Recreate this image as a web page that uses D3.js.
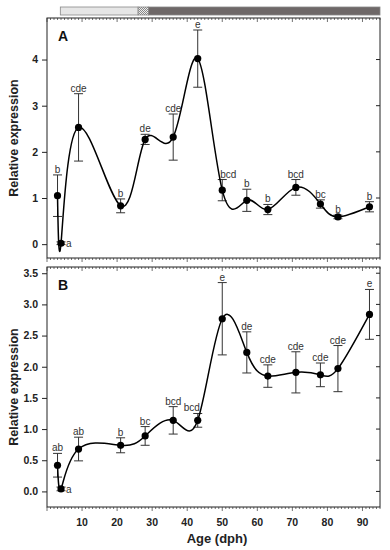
<!DOCTYPE html>
<html>
<head>
<meta charset="utf-8">
<script src="https://cdn.jsdelivr.net/npm/d3@7"></script>
<style>
  body { margin: 0; background: #fff; }
  svg { font-family: "Liberation Sans", Arial, sans-serif; }
</style>
</head>
<body>
<div id="chart"></div>
<script>
// sampling ages (dph)
var ages = [3, 4, 9, 21, 28, 36, 43, 50, 57, 63, 71, 78, 83, 92];

// panel A
var meanA = [1.05, 0.02, 2.53, 0.83, 2.27, 2.32, 4.02, 1.17, 0.95, 0.75, 1.23, 0.87, 0.59, 0.81];
var errA  = [0.45, 0.03, 0.73, 0.15, 0.11, 0.50, 0.62, 0.23, 0.24, 0.11, 0.17, 0.09, 0.04, 0.11];
var letA  = ["b", "a", "cde", "b", "de", "cde", "e", "bcd", "b", "b", "bcd", "bc", "b", "b"];
var ticksA = [0, 1, 2, 3, 4];

// panel B
var meanB = [0.42, 0.04, 0.68, 0.74, 0.89, 1.14, 1.14, 2.77, 2.23, 1.85, 1.91, 1.87, 1.97, 2.84];
var errB  = [0.19, 0.03, 0.19, 0.12, 0.15, 0.22, 0.11, 0.58, 0.33, 0.18, 0.33, 0.19, 0.37, 0.40];
var letB  = ["ab", "a", "ab", "b", "bc", "bcd", "bcd", "e", "de", "cde", "cde", "cde", "cde", "e"];
var ticksB = [0, 0.5, 1, 1.5, 2, 2.5, 3, 3.5];

var xTicks = [10, 20, 30, 40, 50, 60, 70, 80, 90];

// developmental stage bar on top (dph)
var stageStart = [3.8, 26, 29];
var stageEnd   = [26, 29, 95];
var stageFill  = ["#e6e6e6", "url(#hatch)", "#6e6868"];

var W = 390, H = 550;
var left = 47, right = 380;

var svg = d3.select("#chart").append("svg")
    .attr("width", W)
    .attr("height", H);

// hatch pattern for the transition segment
var pat = svg.append("defs").append("pattern")
    .attr("id", "hatch")
    .attr("patternUnits", "userSpaceOnUse")
    .attr("width", 2).attr("height", 2);
pat.append("rect").attr("width", 2).attr("height", 2).attr("fill", "#eee");
pat.append("rect").attr("width", 1).attr("height", 1).attr("fill", "#888");
pat.append("rect").attr("x", 1).attr("y", 1).attr("width", 1).attr("height", 1).attr("fill", "#888");

var x = d3.scaleLinear().domain([0, 95]).range([left, right]);

// stage bar
svg.append("g").selectAll("rect")
    .data(stageStart)
    .enter()
    .append("rect")
    .attr("x", function(d) { return x(d); })
    .attr("y", 7)
    .attr("width", function(d, i) { return x(stageEnd[i]) - x(d); })
    .attr("height", 8)
    .attr("fill", function(d, i) { return stageFill[i]; })
    .attr("stroke", "#888")
    .attr("stroke-width", 0.8);

function drawPanel(top, bottom, yDomain, yTicks, fmt, mean, err, lets, tag, shift) {
    var y = d3.scaleLinear().domain(yDomain).range([bottom, top]);
    var g = svg.append("g");

    // frame
    g.append("rect")
        .attr("x", left).attr("y", top)
        .attr("width", right - left).attr("height", bottom - top)
        .attr("fill", "none")
        .attr("stroke", "#222")
        .attr("stroke-width", 1);

    // top & bottom minor / major ticks (all pointing down)
    var minor = d3.range(0, 96, 1);
    [top, bottom].forEach(function(yy) {
        g.append("g").selectAll("line")
            .data(minor)
            .enter()
            .append("line")
            .attr("x1", function(d) { return x(d); })
            .attr("x2", function(d) { return x(d); })
            .attr("y1", yy)
            .attr("y2", function(d) { return yy + (d % 10 == 0 ? 4 : 2); })
            .attr("stroke", "#333")
            .attr("stroke-width", 0.7);
    });

    // left axis
    g.append("g")
        .attr("transform", "translate(" + left + ",0)")
        .call(d3.axisLeft(y).tickValues(yTicks).tickFormat(fmt).tickSize(5).tickPadding(4))
        .call(function(a) {
            a.select(".domain").remove();
            a.selectAll("line").attr("stroke", "#222");
            a.selectAll("text")
                .attr("font-size", "10.5px")
                .attr("font-weight", "bold")
                .attr("fill", "#222")
                .attr("font-family", "Liberation Sans, Arial, sans-serif");
        });

    // right axis ticks (inward)
    g.append("g").selectAll("line")
        .data(yTicks)
        .enter()
        .append("line")
        .attr("x1", right - 4).attr("x2", right)
        .attr("y1", function(d) { return y(d); })
        .attr("y2", function(d) { return y(d); })
        .attr("stroke", "#222");

    // y label
    g.append("text")
        .attr("transform", "translate(18," + ((top + bottom) / 2) + ") rotate(-90)")
        .attr("text-anchor", "middle")
        .attr("font-size", "12.5px")
        .attr("font-weight", "bold")
        .attr("fill", "#222")
        .text("Relative expression");

    // panel tag
    g.append("text")
        .attr("x", 58).attr("y", top + 23)
        .attr("font-size", "14px")
        .attr("font-weight", "bold")
        .attr("fill", "#111")
        .text(tag);

    // error bars
    var eb = g.append("g").selectAll("g")
        .data(ages)
        .enter()
        .append("g")
        .attr("stroke", "#333")
        .attr("stroke-width", 1);
    eb.append("line")
        .attr("x1", function(d) { return x(d); })
        .attr("x2", function(d) { return x(d); })
        .attr("y1", function(d, i) { return y(mean[i] + err[i]); })
        .attr("y2", function(d, i) { return y(mean[i] - err[i]); });
    eb.append("line")
        .attr("x1", function(d) { return x(d) - 4.5; })
        .attr("x2", function(d) { return x(d) + 4.5; })
        .attr("y1", function(d, i) { return y(mean[i] + err[i]); })
        .attr("y2", function(d, i) { return y(mean[i] + err[i]); });
    eb.append("line")
        .attr("x1", function(d) { return x(d) - 4.5; })
        .attr("x2", function(d) { return x(d) + 4.5; })
        .attr("y1", function(d, i) { return y(mean[i] - err[i]); })
        .attr("y2", function(d, i) { return y(mean[i] - err[i]); });

    // spline through means
    var line = d3.line()
        .x(function(d) { return x(d[0]); })
        .y(function(d) { return y(d[1]); })
        .curve(d3.curveNatural);
    g.append("path")
        .datum(ages.map(function(a, i) { return [a, mean[i]]; }))
        .attr("d", line)
        .attr("fill", "none")
        .attr("stroke", "#000")
        .attr("stroke-width", 1.5);

    // dots
    g.append("g").selectAll("circle")
        .data(ages)
        .enter()
        .append("circle")
        .attr("cx", function(d) { return x(d); })
        .attr("cy", function(d, i) { return y(mean[i]); })
        .attr("r", 3.6)
        .attr("fill", "#000");

    // significance letters
    g.append("g").selectAll("text")
        .data(ages)
        .enter()
        .append("text")
        .attr("x", function(d, i) {
            if (lets[i] == "a") return x(d) + 5;
            return x(d) + (shift[i] || 0);
        })
        .attr("y", function(d, i) {
            if (lets[i] == "a") return y(mean[i]) + 4;
            return y(mean[i] + err[i]) - 2;
        })
        .attr("text-anchor", function(d, i) { return lets[i] == "a" ? "start" : "middle"; })
        .attr("font-size", "10px")
        .attr("fill", "#333")
        .text(function(d, i) { return lets[i]; });

    return y;
}

drawPanel(18, 258, [-0.3, 4.9], ticksA, d3.format("d"), meanA, errA, letA, "A", {7: 6});
drawPanel(267, 507, [-0.25, 3.6], ticksB, d3.format(".1f"), meanB, errB, letB, "B", {6: -6});

// x axis labels under panel B
svg.append("g").selectAll("text")
    .data(xTicks)
    .enter()
    .append("text")
    .attr("x", function(d) { return x(d); })
    .attr("y", 526)
    .attr("text-anchor", "middle")
    .attr("font-size", "10.5px")
    .attr("font-weight", "bold")
    .attr("fill", "#222")
    .text(function(d) { return d; });

svg.append("text")
    .attr("x", 217)
    .attr("y", 543)
    .attr("text-anchor", "middle")
    .attr("font-size", "13px")
    .attr("font-weight", "bold")
    .attr("fill", "#222")
    .text("Age (dph)");
</script>
</body>
</html>
